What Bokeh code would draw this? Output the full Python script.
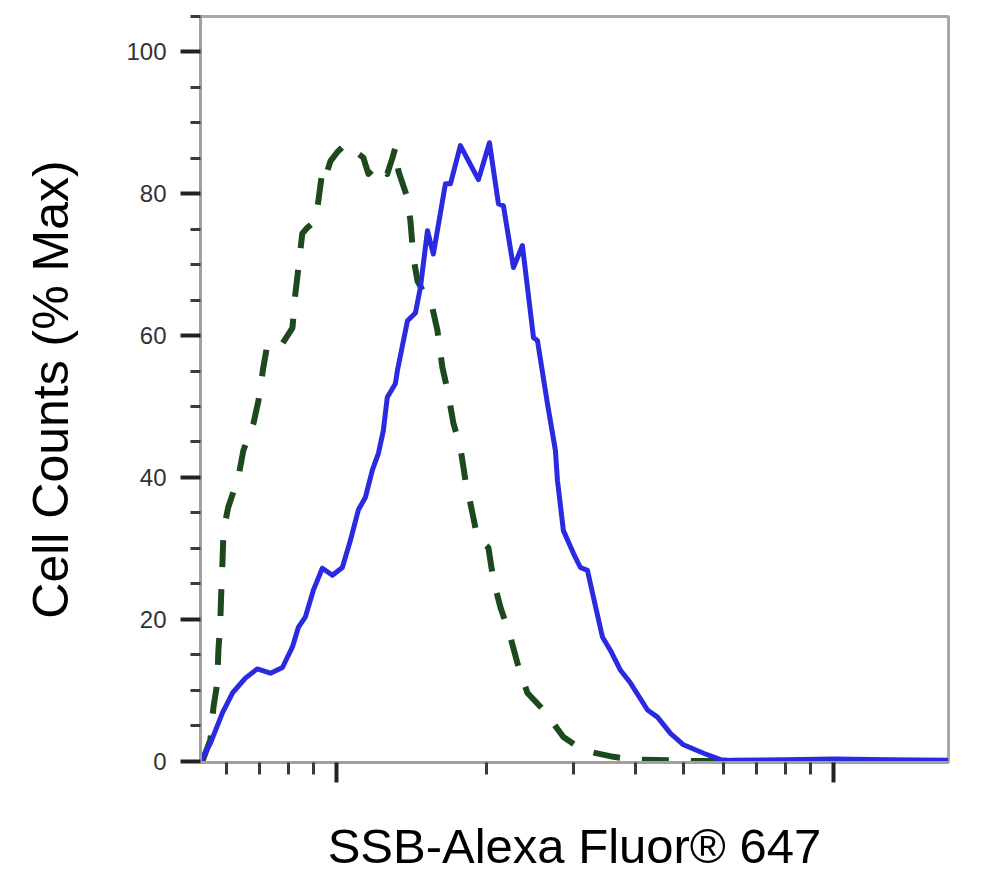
from bokeh.plotting import figure
from bokeh.models import Range1d, FixedTicker
from bokeh.embed import file_html
from bokeh.resources import INLINE

# ---- data (fluorescence intensity, % of max) ----
stained_x = [53.3, 55.8, 59.0, 61.8, 65.6, 69.3, 73.7, 77.9, 81.6, 83.9, 86.6, 89.9,
             93.7, 98.2, 102.8, 106.7, 110.7, 114.4, 118.1, 121.5, 124.3, 126.6, 131.4,
             132.7, 139.0, 144.2, 147.6, 152.5, 156.7, 165.7, 169.6, 177.6, 193.1, 203.2,
             211.8, 216.8, 227.1, 236.7, 249.2, 253.8, 265.8, 275.8, 278.4, 286.2, 299.8,
             309.6, 319.9, 328.9, 342.9, 355.9, 372.8, 390.5, 422.5, 442.5, 469.9, 499.0,
             547.7, 592.6, 620.8, 800.0, 1000.0, 1300.0, 1700.0]
stained_y = [0.0, 2.5, 6.8, 9.6, 11.7, 13.0, 12.4, 13.2, 16.1, 18.9, 20.3, 24.1,
             27.2, 26.2, 27.3, 31.1, 35.4, 37.2, 41.0, 43.4, 46.6, 51.3, 53.2,
             55.1, 62.1, 63.2, 66.8, 74.8, 71.5, 81.4, 81.4, 86.8, 82.0, 87.2,
             78.6, 78.3, 69.6, 72.7, 59.7, 59.3, 50.4, 43.8, 39.6, 32.5, 29.3,
             27.3, 26.9, 23.1, 17.5, 15.6, 12.8, 11.0, 7.2, 6.2, 3.9, 2.3,
             1.1, 0.2, 0.1, 0.2, 0.3, 0.2, 0.1]

control_x = [53.8, 55.8, 56.6, 57.6, 57.9, 58.4, 58.7, 59.0, 59.3, 60.6, 63.5, 65.0,
             68.1, 69.7, 71.3, 72.7, 77.9, 81.6, 82.7, 83.9, 85.4, 87.4, 90.7, 92.0,
             93.7, 95.0, 97.3, 100.5, 104.3, 106.7, 113.3, 116.0, 121.5, 126.6, 129.7,
             131.4, 133.3, 139.0, 140.9, 142.9, 145.6, 156.0, 159.7, 163.4, 167.3, 172.0,
             177.6, 181.8, 186.1, 192.2, 202.2, 207.0, 213.8, 223.9, 231.3, 242.3, 261.0,
             286.2, 314.0, 360.9, 395.9, 469.9, 523.0, 1700.0]
control_y = [0.0, 3.0, 7.6, 11.0, 15.6, 19.4, 24.1, 27.9, 32.5, 35.8, 40.0, 43.8,
             47.6, 50.8, 55.5, 58.9, 58.9, 61.1, 65.9, 69.6, 74.4, 75.2, 76.2, 79.0,
             83.2, 82.3, 84.6, 85.9, 87.0, 86.5, 85.1, 82.8, 84.2, 82.8, 85.1,
             86.5, 83.2, 79.4, 76.2, 71.0, 67.7, 63.9, 60.7, 55.5, 52.3, 47.6,
             44.2, 39.6, 36.3, 31.5, 30.1, 25.5, 21.7, 17.5, 13.8, 9.6, 7.2,
             3.4, 1.5, 0.6, 0.2, 0.1, 0.0, 0.0]

y_major = [0, 20, 40, 60, 80, 100]
y_minor = [5, 10, 15, 25, 30, 35, 45, 50, 55, 65, 70, 75, 85, 90, 95, 105]
x_major = [100, 1000]
x_minor = [60, 70, 80, 90, 200, 300, 400, 500, 600, 700, 800, 900]

x_title = "SSB-Alexa Fluor\u00ae 647"
y_title = "Cell Counts (% Max)"

p = figure(frame_width=748, frame_height=746,
           x_axis_type="log", x_range=Range1d(53.3, 1703), y_range=Range1d(-0.2, 105),
           output_backend="svg", toolbar_location=None,
           min_border_left=200, min_border_top=16, min_border_right=20, min_border_bottom=60)

p.background_fill_color = "white"
p.border_fill_color = "white"
p.grid.visible = False
p.outline_line_color = "#a8a8a8"
p.outline_line_width = 3

p.line(control_x, control_y, line_color="#1d4a1d", line_width=6, line_dash="27 22",
       line_join="round")
p.line(stained_x, stained_y, line_color="#2a2ae0", line_width=5, line_join="round")

for ax in (p.xaxis[0], p.yaxis[0]):
    ax.axis_line_color = "#a0a0a0"
    ax.axis_line_width = 3
    ax.major_tick_in = 0
    ax.minor_tick_in = 0
    ax.major_tick_line_color = "#222222"
    ax.major_tick_line_width = 4
    ax.minor_tick_line_color = "#3a3a3a"
    ax.minor_tick_line_width = 3
    ax.axis_label_text_font = "Liberation Sans"
    ax.axis_label_text_font_style = "normal"
    ax.axis_label_text_color = "black"

p.yaxis.ticker = FixedTicker(ticks=y_major, minor_ticks=y_minor)
p.yaxis.major_tick_out = 20
p.yaxis.minor_tick_out = 10
p.yaxis.major_label_text_font = "Liberation Sans"
p.yaxis.major_label_text_font_size = "24px"
p.yaxis.major_label_text_color = "#333333"
p.yaxis.major_label_standoff = 14
p.yaxis.axis_label = y_title
p.yaxis.axis_label_text_font_size = "50px"
p.yaxis.axis_label_standoff = 44

p.xaxis.ticker = FixedTicker(ticks=x_major, minor_ticks=x_minor)
p.xaxis.major_tick_out = 20
p.xaxis.minor_tick_out = 12
p.xaxis.major_label_text_font_size = "2px"
p.xaxis.major_label_text_alpha = 0
p.xaxis.major_label_standoff = 0
p.xaxis.axis_label = x_title
p.xaxis.axis_label_text_font_size = "49px"
p.xaxis.axis_label_standoff = 36

open("out.html", "w").write(file_html(p, INLINE))
